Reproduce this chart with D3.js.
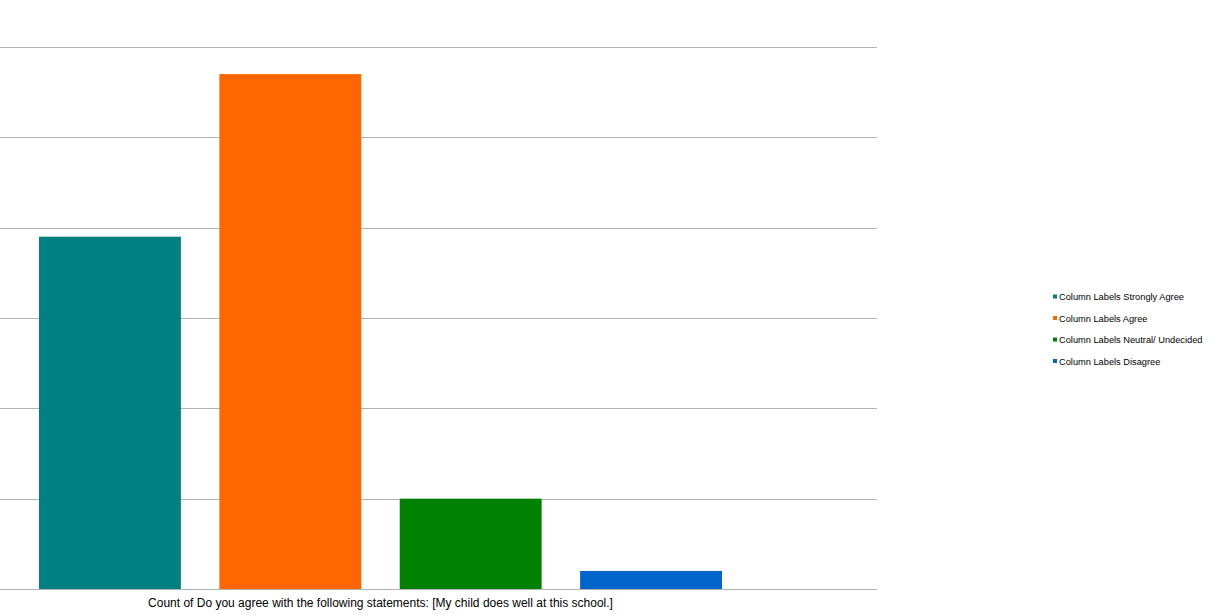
<!DOCTYPE html>
<html><head><meta charset="utf-8">
<script src="https://cdn.jsdelivr.net/npm/d3@7"></script>
<style>body{margin:0;background:#fff}svg{display:block}</style>
</head><body>
<svg id="c" width="1222" height="615"></svg>
<script>
const category = "Count of Do you agree with the following statements: [My child does well at this school.]";
const seriesNames = ["Column Labels Strongly Agree","Column Labels Agree","Column Labels Neutral/ Undecided","Column Labels Disagree"];
const seriesValues = [39, 57, 10, 2];
const seriesColors = ["#008080","#ff6600","#008000","#0066cc"];
const yTicks = [0,10,20,30,40,50,60];

const svg = d3.select("#c");
const plot = {left:0, right:877, top:47, bottom:589};
const y = d3.scaleLinear().domain([0,60]).range([plot.bottom, plot.top]);
const x = d3.scaleBand().domain(seriesNames).range([39,722]).paddingInner(0.2133).paddingOuter(0);

svg.append("g").selectAll("line").data(yTicks).join("line")
  .attr("x1",plot.left).attr("x2",plot.right)
  .attr("y1",d=>Math.round(y(d))+0.5).attr("y2",d=>Math.round(y(d))+0.5)
  .attr("stroke","#b3b3b3").attr("stroke-width",1);

svg.append("g").selectAll("rect").data(seriesNames).join("rect")
  .attr("x",d=>x(d)).attr("width",x.bandwidth())
  .attr("y",(d,i)=>y(seriesValues[i])).attr("height",(d,i)=>plot.bottom-y(seriesValues[i]))
  .attr("fill",(d,i)=>seriesColors[i]);

svg.append("text").attr("x",(39+722)/2).attr("y",607).attr("text-anchor","middle")
  .attr("font-family","Liberation Sans, Arial, sans-serif").attr("font-size",12).attr("fill","#000")
  .text(category);

const lg = svg.append("g").attr("transform","translate(1053,297)");
const rows = lg.selectAll("g").data(seriesNames).join("g").attr("transform",(d,i)=>`translate(0,${i*21.5})`);
rows.append("rect").attr("x",0).attr("y",-2.5).attr("width",4).attr("height",4).attr("fill",(d,i)=>seriesColors[i]);
rows.append("text").attr("x",6).attr("y",3).attr("font-family","Liberation Sans, Arial, sans-serif")
  .attr("font-size",9.25).attr("fill","#000").text(d=>d);
</script>
</body></html>
